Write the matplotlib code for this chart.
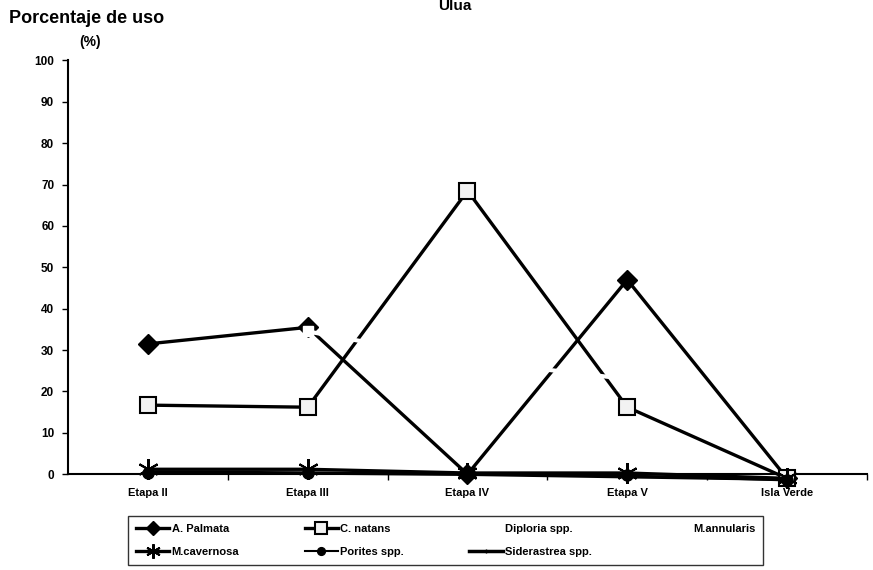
import numpy as np
import matplotlib
matplotlib.use('Agg')
import matplotlib.pyplot as plt

plt.rcParams['font.family'] = ['Liberation Sans', 'DejaVu Sans']

# datos
etapas = ['Etapa II', 'Etapa III', 'Etapa IV', 'Etapa V', 'Isla Verde']
a_palmata = [31.5, 35.5, 0, 47, -1]
c_natans = [16.7, 16.2, 68.5, 16.2, -1]
diploria = [np.nan, 34.5, 27.5, 23, np.nan]   # dibujada en blanco
m_annularis = [np.nan, np.nan, np.nan, np.nan, np.nan]
m_cavernosa = [1.2, 1.2, 0.3, 0.3, -1]
porites = [0.2, 0.2, 0, -0.3, -1.5]
siderastrea = [0.5, 0.3, 0, -0.6, -1.2]
yticks = [0, 10, 20, 30, 40, 50, 60, 70, 80, 90, 100]

fig = plt.figure(figsize=(8.73, 5.70), dpi=100)
ax = fig.add_axes([0.078, 0.168, 0.915, 0.726])
x = np.arange(len(etapas))

h1, = ax.plot(x, a_palmata, color='black', lw=2.4, marker='D', ms=10, mfc='black', label='A. Palmata', clip_on=False, zorder=3)
h2, = ax.plot(x, c_natans, color='black', lw=2.4, marker='s', ms=12, mfc='#f2f2f2', mec='black', mew=1.5, label='C. natans', clip_on=False, zorder=3)
h5, = ax.plot(x, m_cavernosa, color='black', lw=2.4, marker=(6, 2, 0), ms=15, mew=1.5, label='M.cavernosa', clip_on=False, zorder=3)
h6, = ax.plot(x, porites, color='black', lw=1.5, marker='o', ms=8, label='Porites spp.', clip_on=False, zorder=3)
h7, = ax.plot(x, siderastrea, color='black', lw=2.5, marker='|', ms=5, label='Siderastrea spp.', clip_on=False, zorder=3)
# series blancas (encima de las otras)
h3, = ax.plot(x, diploria, color='white', lw=3, marker='s', ms=7, mfc='white', mec='white', label='Diploria spp.', clip_on=False, zorder=4)
h4, = ax.plot(x, m_annularis, color='white', lw=3, label='M.annularis', clip_on=False, zorder=4)

ax.set_xlim(-0.5, len(etapas) - 0.5)
ax.set_ylim(0, 100)
ax.set_yticks(yticks)
ax.set_yticklabels([str(v) for v in yticks], fontsize=8.5, fontweight='bold')
ax.set_xticks(x)
ax.set_xticklabels(etapas, fontsize=8, fontweight='bold')
ax.set_xticks(np.arange(len(etapas)) + 0.5, minor=True)
ax.tick_params(axis='x', which='major', length=0, pad=10)
ax.tick_params(axis='x', which='minor', length=4, direction='out', width=1)
ax.tick_params(axis='y', length=4, width=1, direction='out', pad=6)
for s in ['top', 'right']:
    ax.spines[s].set_visible(False)
ax.spines['left'].set_linewidth(1.5)
ax.spines['bottom'].set_linewidth(1.5)

# titulos
fig.text(0.521, 0.99, 'Ulua', ha='center', va='center', fontsize=11, fontweight='bold')
fig.text(0.01, 0.968, 'Porcentaje de uso', ha='left', va='center', fontsize=13, fontweight='bold')
fig.text(0.103, 0.926, '(%)', ha='center', va='center', fontsize=10, fontweight='bold')

# leyenda en dos filas
handles = [h1, h5, h2, h6, h3, h7, h4]
fig.legend(handles=handles, labels=[h.get_label() for h in handles], ncol=4,
           loc='lower left', bbox_to_anchor=(0.147, 0.009, 0.727, 0.102), mode='expand',
           frameon=True, fancybox=False, edgecolor='black', borderaxespad=0,
           prop={'size': 8, 'weight': 'bold'}, handlelength=3.0,
           markerscale=0.7, columnspacing=1.0, handletextpad=0.2, borderpad=0.7,
           labelspacing=1.2)

plt.savefig('out.png', dpi=100)
plt.close()
